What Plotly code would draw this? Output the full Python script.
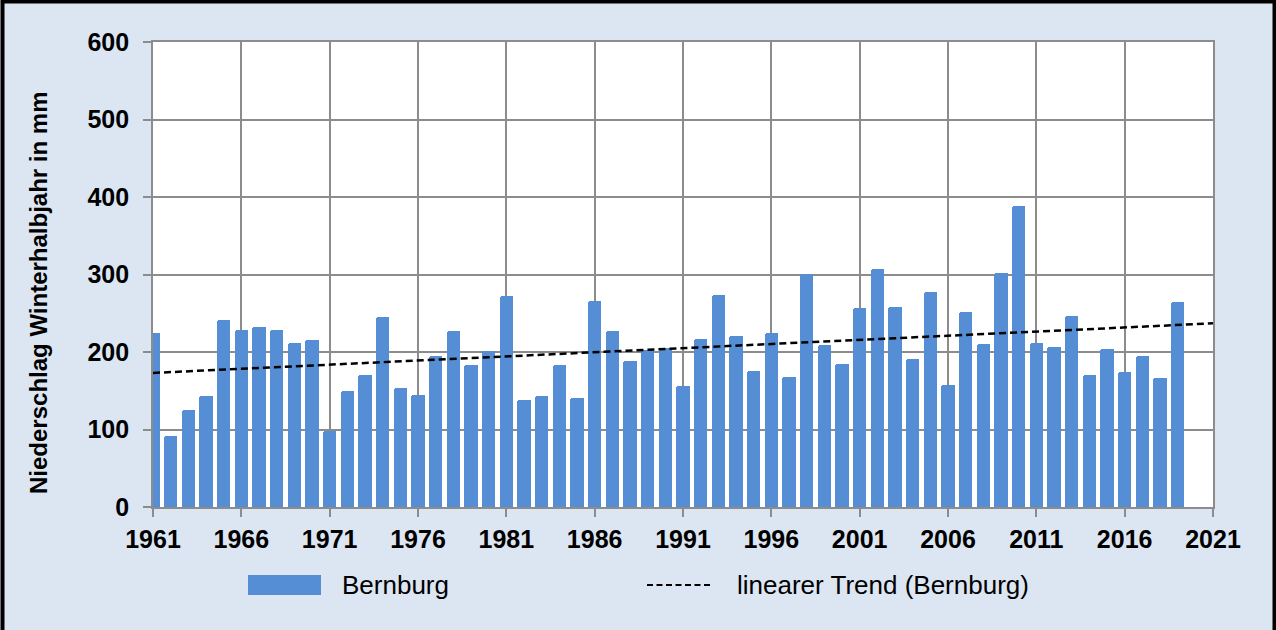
import plotly.graph_objects as go

years = list(range(1961, 2020))
niederschlag = [225, 91, 125, 143, 241, 229, 232, 229, 211, 215,
                98, 150, 170, 245, 154, 144, 195, 227, 183, 201,
                272, 138, 143, 183, 141, 266, 227, 189, 202, 205,
                156, 217, 273, 221, 175, 224, 168, 301, 209, 185,
                257, 307, 258, 191, 277, 157, 252, 210, 302, 388,
                211, 206, 247, 170, 204, 174, 195, 167, 265]
# linear trend line at both ends of the axis
trend_years = [1961, 2021]
trend_values = [173, 237]
x_ticks = list(range(1961, 2022, 5))
y_ticks = [0, 100, 200, 300, 400, 500, 600]

series_name = "Bernburg"
trend_name = "linearer Trend (Bernburg)"
y_title = "Niederschlag Winterhalbjahr in mm"

W, H = 1276, 630
L, R, T, B = 153, 1213, 42, 507
BG = "#dce6f2"
BAR = "#558ed5"
GRID = "#8c8c8c"
FONT = "Arial, Liberation Sans, sans-serif"

def px(p):
    return (p - L) / (R - L)

def py(p):
    return (B - p) / (B - T)

fig = go.Figure()
fig.add_trace(go.Bar(x=years, y=niederschlag, name=series_name, width=0.755,
                     marker=dict(color=BAR, line=dict(width=0), cornerradius=2),
                     showlegend=False))
fig.add_trace(go.Scatter(x=trend_years, y=trend_values, mode="lines", name=trend_name,
                         line=dict(color="black", width=2.5, dash="7px,4px"),
                         showlegend=False))

fig.update_layout(
    width=W, height=H,
    margin=dict(l=L, r=W - R, t=T, b=H - B),
    paper_bgcolor=BG, plot_bgcolor="white",
    font=dict(family=FONT, color="black"),
    bargap=0,
)
fig.update_xaxes(range=[1961, 2021], tickmode="array", tickvals=x_ticks,
                 ticktext=[str(v) for v in x_ticks],
                 showgrid=True, gridcolor=GRID, gridwidth=1.7,
                 showline=True, linecolor=GRID, linewidth=1.7, mirror=True,
                 ticks="outside", ticklen=8, tickcolor=GRID, tickwidth=1.7,
                 tickfont=dict(size=25, family=FONT, weight="bold"),
                 ticklabelstandoff=1, zeroline=False)
fig.update_yaxes(range=[0, 600], tickmode="array", tickvals=y_ticks,
                 showgrid=True, gridcolor=GRID, gridwidth=1.7,
                 showline=True, linecolor=GRID, linewidth=1.7, mirror=True,
                 ticks="outside", ticklen=8, tickcolor=GRID, tickwidth=1.7,
                 tickfont=dict(size=25, family=FONT, weight="bold"),
                 ticklabelstandoff=9, zeroline=False)

# y axis title (placed as in the reference, slightly below the plot centre)
fig.add_annotation(xref="paper", yref="paper", x=px(38), y=py(293),
                   text=y_title, showarrow=False, textangle=-90,
                   xanchor="center", yanchor="middle",
                   font=dict(size=24, family=FONT, weight="bold", color="black"))

# custom legend
fig.add_shape(type="rect", xref="paper", yref="paper",
              x0=px(248), x1=px(321), y0=py(595), y1=py(575),
              fillcolor=BAR, line=dict(width=0))
fig.add_annotation(xref="paper", yref="paper", x=px(340), y=py(585),
                   text=series_name, showarrow=False, xanchor="left", yanchor="middle",
                   font=dict(size=26, family=FONT, color="black"))
fig.add_shape(type="line", xref="paper", yref="paper",
              x0=px(647), x1=px(713), y0=py(585), y1=py(585),
              line=dict(color="black", width=2, dash="6px,3.5px"))
fig.add_annotation(xref="paper", yref="paper", x=px(735), y=py(585),
                   text=trend_name, showarrow=False, xanchor="left", yanchor="middle",
                   font=dict(size=26, family=FONT, color="black"))

# outer frame
fig.add_shape(type="rect", xref="paper", yref="paper",
              x0=px(2.5), x1=px(1274.5), y0=py(660), y1=py(1.5),
              line=dict(color="black", width=4), fillcolor="rgba(0,0,0,0)")

fig.write_html("out.html", config={"displayModeBar": False},
               post_script="document.body.style.margin='0';document.body.style.overflow='hidden';")
